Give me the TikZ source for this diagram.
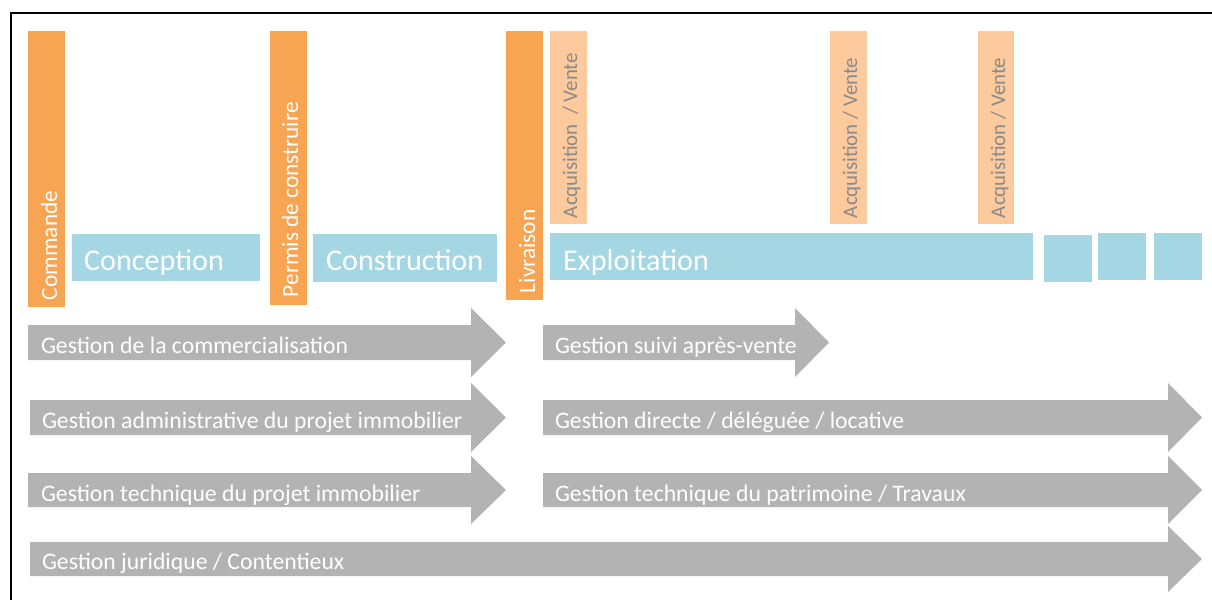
\documentclass[tikz,border=0pt]{standalone}
\usepackage{fontspec}
\setmainfont{Carlito}
\definecolor{orangeD}{HTML}{F7A553}
\definecolor{orangeL}{HTML}{FCCA9C}
\definecolor{blueB}{HTML}{A4D7E3}
\definecolor{grayA}{HTML}{B3B3B3}
\definecolor{grayT}{HTML}{8A8A8A}
\tikzset{
  lbl/.style={inner sep=0pt, outer sep=0pt},
  arrowlbl/.style={lbl, text=white, font=\fontsize{11.85}{14}\selectfont, anchor=base west},
  phaselbl/.style={lbl, text=white, font=\fontsize{15.1}{18}\selectfont, anchor=base west},
  milelbl/.style={lbl, text=white, font=\fontsize{11.65}{14}\selectfont, rotate=90, anchor=base west},
  acqlbl/.style={lbl, text=grayT, font=\fontsize{10.4}{12}\selectfont, rotate=90, anchor=base west},
}
\begin{document}
\begin{tikzpicture}[x=0.5pt,y=-0.5pt]
\useasboundingbox (0,0) rectangle (1212,600);
% frame
\draw[line width=1pt] (11,600) -- (11,13) -- (1212,13);
% milestone bars
\fill[orangeD] (28,31) rectangle (65,307);
\fill[orangeD] (270,31) rectangle (307,305);
\fill[orangeD] (506,31) rectangle (543,300);
\fill[orangeL] (550,31) rectangle (587,224);
\fill[orangeL] (830,31) rectangle (867,224);
\fill[orangeL] (978,31) rectangle (1014,224);
% phases
\fill[blueB] (72,234) rectangle (260,281);
\fill[blueB] (313,234) rectangle (497,282);
\fill[blueB] (550,233) rectangle (1033,280);
\fill[blueB] (1044,235) rectangle (1092,282);
\fill[blueB] (1098,233) rectangle (1146,280);
\fill[blueB] (1154,233) rectangle (1202,280);
% milestone labels
\node[milelbl] (cmd) at (57,300) {Commande};
\node[milelbl] (pc) at (298,297) {Permis de construire};
\node[milelbl] (liv) at (535,293) {Livraison};
\node[acqlbl] (acq1) at (577,218) {Acquisition~~/ Vente};
\node[acqlbl] (acq2) at (857,218) {Acquisition / Vente};
\node[acqlbl] (acq3) at (1005,218) {Acquisition / Vente};
% phase labels
\node[phaselbl] (conc) at (84,270) {Conception};
\node[phaselbl] (cons) at (326,270) {Construction};
\node[phaselbl] (expl) at (563,270) {Exploitation};
% gray arrows
\fill[grayA] (28,325) -- (471,325) -- (471,308) -- (506,342.5) -- (471,377) -- (471,360) -- (28,360) -- cycle;
\fill[grayA] (543,325) -- (795,325) -- (795,308) -- (829,342.5) -- (795,377) -- (795,360) -- (543,360) -- cycle;
\fill[grayA] (30,400) -- (471,400) -- (471,383) -- (506,417.5) -- (471,452) -- (471,435) -- (30,435) -- cycle;
\fill[grayA] (543,400) -- (1168,400) -- (1168,383) -- (1202,417.5) -- (1168,452) -- (1168,435) -- (543,435) -- cycle;
\fill[grayA] (28,473) -- (471,473) -- (471,456) -- (506,490) -- (471,524) -- (471,507) -- (28,507) -- cycle;
\fill[grayA] (543,473) -- (1168,473) -- (1168,456) -- (1202,490) -- (1168,524) -- (1168,507) -- (543,507) -- cycle;
\fill[grayA] (30,542) -- (1168,542) -- (1168,526) -- (1202,559) -- (1168,592) -- (1168,576) -- (30,576) -- cycle;
% arrow labels
\node[arrowlbl] (g1) at (41,353) {Gestion de la commercialisation};
\node[arrowlbl] (g2) at (555,353) {Gestion suivi après-vente};
\node[arrowlbl] (g3) at (42,428) {Gestion administrative du projet immobilier};
\node[arrowlbl] (g4) at (555,428) {Gestion directe / déléguée / locative};
\node[arrowlbl] (g5) at (41,501) {Gestion technique du projet immobilier};
\node[arrowlbl] (g6) at (555,501) {Gestion technique du patrimoine / Travaux};
\node[arrowlbl] (g7) at (42,569) {Gestion juridique / Contentieux};
\end{tikzpicture}
\end{document}
